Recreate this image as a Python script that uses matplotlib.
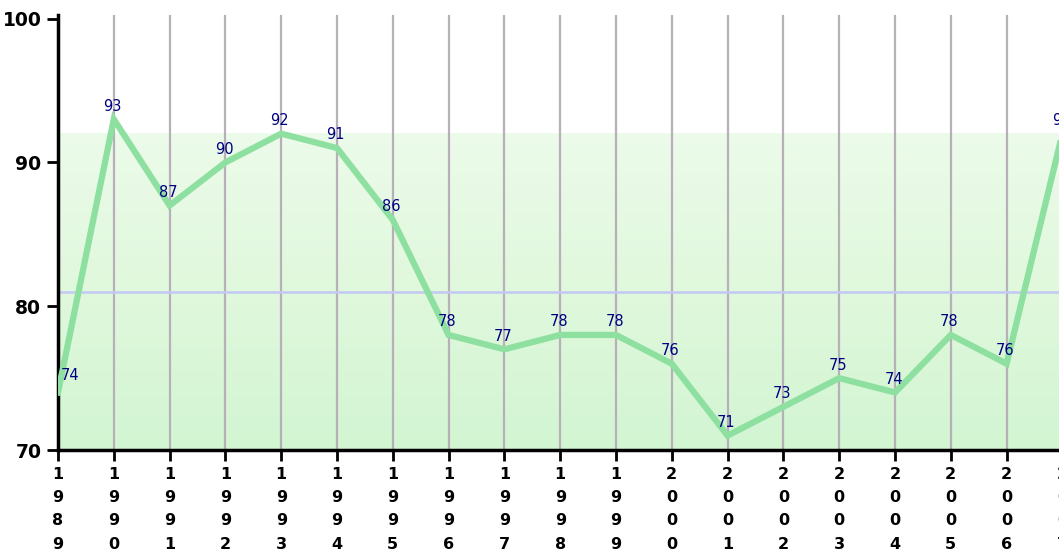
import matplotlib
matplotlib.use("Agg")
import matplotlib.pyplot as plt
import numpy as np
from matplotlib.colors import LinearSegmentedColormap

years = list(range(1989, 2008))
values = [74, 93, 87, 90, 92, 91, 86, 78, 77, 78, 78, 76, 71, 73, 75, 74, 78, 76, 92]
y_ticks = [70, 80, 90, 100]
shade_top = 92
average = sum(values) / len(values)

W, H = 1059, 560
fig = plt.figure(figsize=(W / 100, H / 100), dpi=100)

# axes runs past the right edge of the picture, like the original
left, right, bottom, top = 58, 58 + 18.5 * 55.8, 450, 15
ax = fig.add_axes([left / W, 1 - bottom / H, (right - left) / W, (bottom - top) / H])
ax.set_xlim(1989, 2007.5)
ax.set_ylim(70, 100.25)

# pale green shaded band
cmap = LinearSegmentedColormap.from_list("band", ["#d2f5d2", "#e0f8dc", "#ecfbea"])
grad = np.linspace(0, 1, 256).reshape(-1, 1)
ax.imshow(grad, cmap=cmap, origin="lower", aspect="auto",
          extent=(1989, 2007.5, 70, shade_top), zorder=0)

for yr in years:
    ax.axvline(yr, color="#b8b0b8", lw=1.6, zorder=1)

ax.axhline(average, color="#c4c8f4", lw=1.8, zorder=2)

ax.plot(years, values, color="#8ee0a0", lw=4.5, solid_joinstyle="miter", zorder=3)

for i, (yr, v) in enumerate(zip(years, values)):
    if i == 0:
        ax.annotate(str(v), (yr, v), xytext=(2, 7), textcoords="offset points",
                    ha="left", va="bottom", color="#000080", fontsize=10.5, zorder=4)
    else:
        ax.annotate(str(v), (yr, v), xytext=(-1, 4), textcoords="offset points",
                    ha="center", va="bottom", color="#000080", fontsize=10.5, zorder=4)

ax.set_xticks(years)
ax.set_xticklabels(["\n".join(str(y)) for y in years], fontsize=11.5, fontweight="bold",
                   linespacing=1.7, va="top")
ax.set_yticks(y_ticks)
ax.set_yticklabels([str(t) for t in y_ticks], fontsize=13.5, fontweight="bold")
ax.tick_params(axis="both", direction="out", length=8, width=2, color="black")
ax.tick_params(axis="x", pad=4)
ax.tick_params(axis="y", pad=4)

for s in ["top", "right"]:
    ax.spines[s].set_visible(False)
for s in ["left", "bottom"]:
    ax.spines[s].set_linewidth(2.5)
    ax.spines[s].set_color("black")

fig.savefig("out.png", dpi=100)
